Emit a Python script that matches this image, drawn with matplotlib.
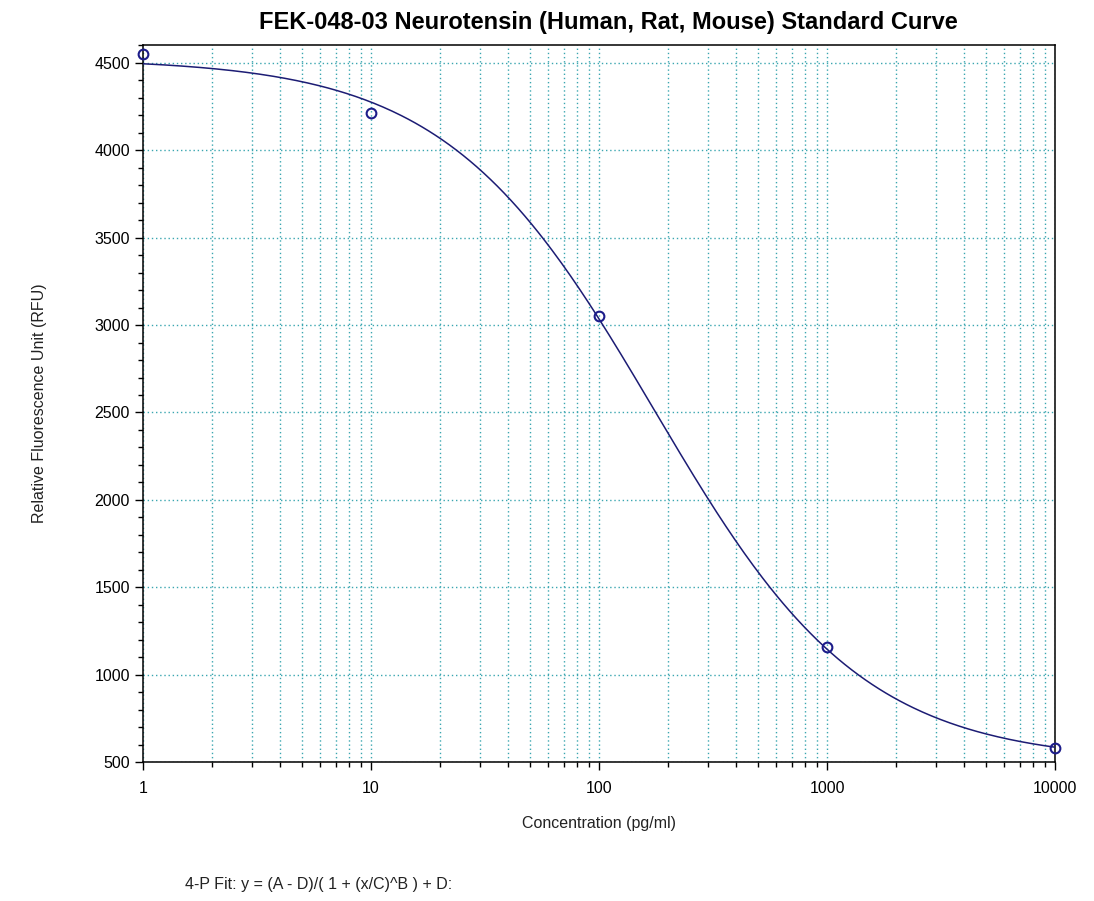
import matplotlib
matplotlib.use("Agg")
import matplotlib.pyplot as plt
import numpy as np
from matplotlib.ticker import LogLocator, MultipleLocator, FixedLocator, FuncFormatter

# standards
conc = [1, 10, 100, 1000, 10000]
rfu = [4550, 4215, 3050, 1160, 580]

# 4-P fit parameters estimated from the drawn curve
A = 4525.0
B = 0.95
C = 175.0
D = 500.0

x_ticks = [1, 10, 100, 1000, 10000]
y_ticks = [500, 1000, 1500, 2000, 2500, 3000, 3500, 4000, 4500]

plt.rcParams["font.family"] = ["Liberation Sans", "DejaVu Sans"]

fig = plt.figure(figsize=(10.94, 9.01), dpi=100)
ax = fig.add_axes([0.1307, 0.1543, 0.8337, 0.7958])

grid_col = "#3aa6b0"
xs = np.logspace(0, 4, 400)
ys = (A - D) / (1 + (xs / C) ** B) + D

ax.set_xscale("log")
ax.set_xlim(1, 10000)
ax.set_ylim(500, 4603)

ax.xaxis.set_major_locator(FixedLocator(x_ticks))
ax.xaxis.set_minor_locator(LogLocator(base=10, subs=np.arange(2, 10)))
ax.xaxis.set_major_formatter(FuncFormatter(lambda v, p: f"{int(v)}"))
ax.xaxis.set_minor_formatter(FuncFormatter(lambda v, p: ""))
ax.yaxis.set_major_locator(FixedLocator(y_ticks))
ax.yaxis.set_minor_locator(MultipleLocator(100))

ax.grid(which="major", axis="both", color=grid_col, linestyle=(0, (1, 2)), linewidth=1.0)
ax.grid(which="minor", axis="x", color=grid_col, linestyle=(0, (1, 2)), linewidth=1.0)
ax.set_axisbelow(True)

ax.plot(xs, ys, color="#1c1c74", linewidth=1.1, zorder=3)
ax.plot(conc, rfu, linestyle="none", marker="o", markersize=7,
        markerfacecolor="none", markeredgecolor="#1c1c8a", markeredgewidth=1.5,
        clip_on=False, zorder=4)

ax.tick_params(which="major", direction="out", length=6, width=1.0, labelsize=11.5, colors="black")
ax.tick_params(which="minor", direction="out", length=3.5, width=1.0)
ax.tick_params(axis="x", which="major", pad=8)
for s in ax.spines.values():
    s.set_linewidth(1.1)

ax.set_xlabel("Concentration (pg/ml)", fontsize=11.5, labelpad=14, color="#222222")
ax.set_ylabel("Relative Fluorescence Unit (RFU)", fontsize=11.5, labelpad=34, color="#222222")
fig.text(0.556, 0.975, "FEK-048-03 Neurotensin (Human, Rat, Mouse) Standard Curve",
         ha="center", va="center", fontsize=17, fontweight="bold",
         family=["Liberation Sans Narrow", "Liberation Sans", "DejaVu Sans"])
fig.text(0.169, 0.018, "4-P Fit: y = (A - D)/( 1 + (x/C)^B ) + D:",
         ha="left", va="center", fontsize=11.5, color="#222222")

fig.savefig("out.png", dpi=100)
